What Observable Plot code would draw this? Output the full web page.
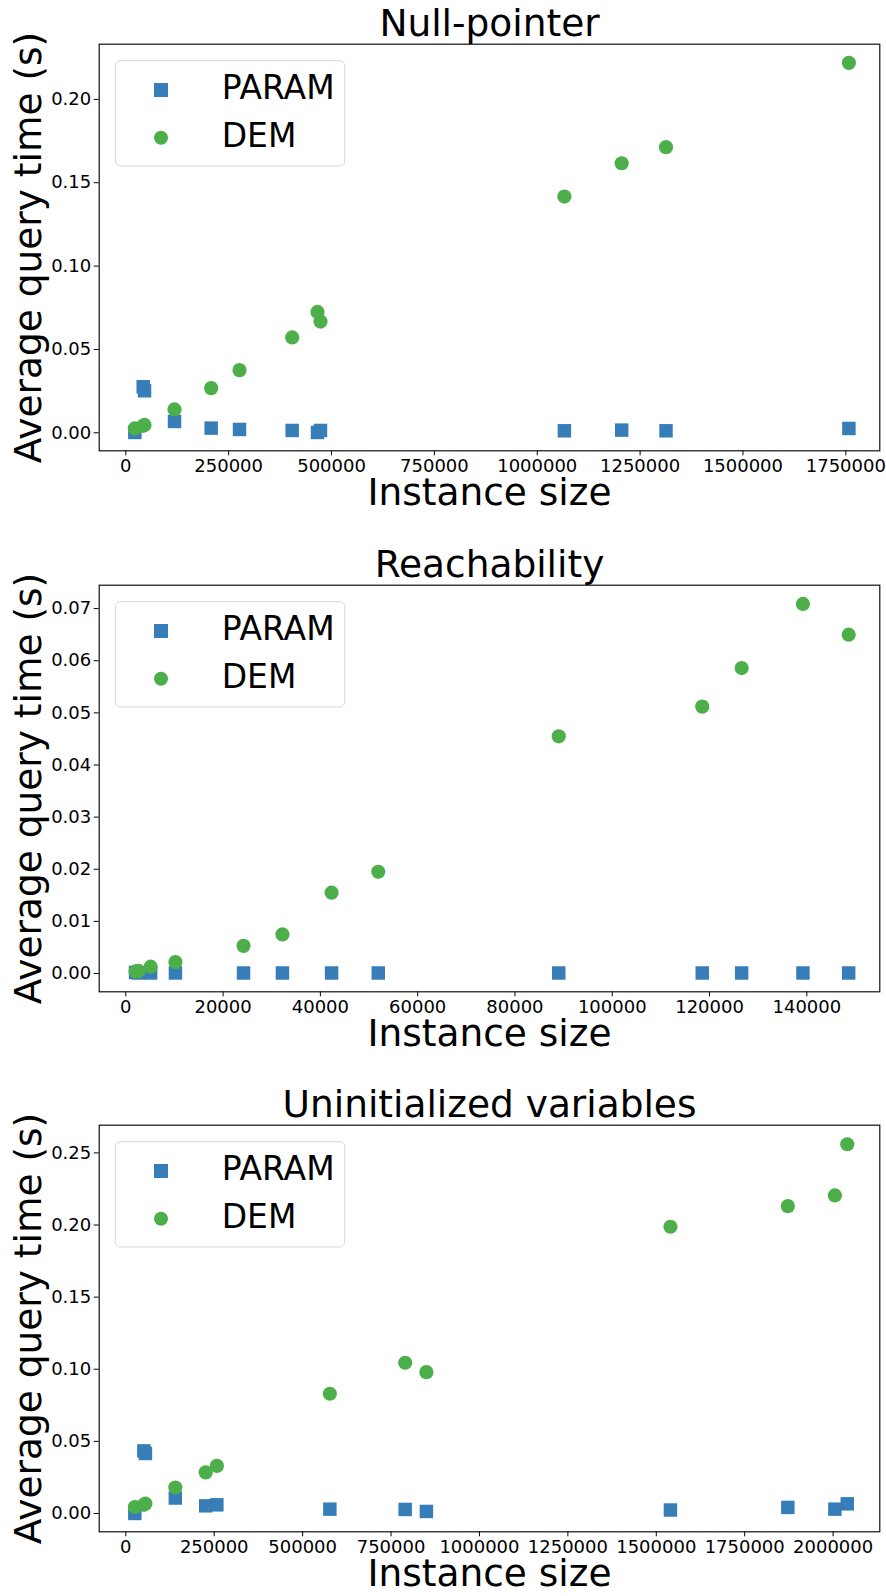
<!DOCTYPE html>
<html>
<head>
<meta charset="utf-8">
<script src="https://cdn.jsdelivr.net/npm/d3@7"></script>
<script src="https://cdn.jsdelivr.net/npm/@observablehq/plot@0.6"></script>
<style>
  html, body { margin: 0; padding: 0; background: #fff; }
  #root { position: relative; width: 886px; height: 1596px; font-family: "DejaVu Sans", sans-serif; overflow: hidden; }
  .panel { position: absolute; left: 0; }
  .panel svg { overflow: visible; }
</style>
</head>
<body>
<div id="root"></div>
<script>
// ---------- Data ----------
const seriesNames = ["PARAM", "DEM"];
const titles = ["Null-pointer", "Reachability", "Uninitialized variables"];
const xLabel = "Instance size";
const yLabel = "Average query time (s)";

// Null-pointer
const npSize  = [21900, 42300, 45500, 118400, 207500, 276400, 404400, 465900, 473200, 1066000, 1205300, 1313000, 1757500];
const npParam = [0.0002, 0.0276, 0.0252, 0.0068, 0.0028, 0.0020, 0.0014, 0.0002, 0.0014, 0.0012, 0.0016, 0.0012, 0.0026];
const npDem   = [0.0026, 0.0042, 0.0047, 0.0140, 0.0268, 0.0376, 0.0572, 0.0725, 0.0667, 0.1417, 0.1617, 0.1713, 0.2219];

// Reachability
const reSize  = [2000, 2600, 5100, 10200, 24200, 32200, 42300, 51900, 89000, 118500, 126600, 139200, 148600];
const reParam = [0.0002, 0.0001, 0.0001, 0.0001, 0.0001, 0.0001, 0.0001, 0.0001, 0.0001, 0.0001, 0.0001, 0.0001, 0.0001];
const reDem   = [0.0004, 0.0005, 0.0013, 0.0022, 0.0053, 0.0075, 0.0155, 0.0195, 0.0455, 0.0512, 0.0586, 0.0709, 0.0650];

// Uninitialized variables
const uvSize  = [25500, 51000, 55500, 140000, 226000, 257500, 577000, 790000, 850000, 1540000, 1872000, 2005000, 2040000];
const uvParam = [0.0000, 0.0434, 0.0416, 0.0107, 0.0053, 0.0060, 0.0030, 0.0028, 0.0014, 0.0024, 0.0042, 0.0030, 0.0067];
const uvDem   = [0.0045, 0.0060, 0.0068, 0.0180, 0.0285, 0.0330, 0.0830, 0.1045, 0.0980, 0.1988, 0.2131, 0.2205, 0.2560];

// Axis ticks
const npXTicks = [0, 250000, 500000, 750000, 1000000, 1250000, 1500000, 1750000];
const npYTicks = [0, 0.05, 0.10, 0.15, 0.20];
const reXTicks = [0, 20000, 40000, 60000, 80000, 100000, 120000, 140000];
const reYTicks = [0, 0.01, 0.02, 0.03, 0.04, 0.05, 0.06, 0.07];
const uvXTicks = [0, 250000, 500000, 750000, 1000000, 1250000, 1500000, 1750000, 2000000];
const uvYTicks = [0, 0.05, 0.10, 0.15, 0.20, 0.25];

const panels = [
  {title: titles[0], size: npSize, param: npParam, dem: npDem, xd: [-64650, 1832600], yd: [-0.0108, 0.2331], xt: npXTicks, yt: npYTicks, yf: ".2f", top: 0},
  {title: titles[1], size: reSize, param: reParam, dem: reDem, xd: [-5470, 155000], yd: [-0.00351, 0.07449], xt: reXTicks, yt: reYTicks, yf: ".2f", top: 540.6},
  {title: titles[2], size: uvSize, param: uvParam, dem: uvDem, xd: [-75200, 2132000], yd: [-0.0127, 0.2692], xt: uvXTicks, yt: uvYTicks, yf: ".2f", top: 1080.6}
];

const BLUE = "#377eb8", GREEN = "#4daf4a";
const W = 886, ML = 98.7, MR = 6.7, MT = 43.7, FH = 406.6, MB = 65;
const H = MT + FH + MB;
const root = document.getElementById("root");

for (const p of panels) {
  const paramData = p.size.map((s, i) => ({x: s, y: p.param[i]}));
  const demData = p.size.map((s, i) => ({x: s, y: p.dem[i]}));
  const svg = Plot.plot({
    width: W, height: H,
    marginLeft: ML, marginRight: MR, marginTop: MT, marginBottom: MB,
    style: {fontFamily: "DejaVu Sans", fontSize: "18px", color: "#000", background: "transparent", overflow: "visible"},
    x: {domain: p.xd},
    y: {domain: p.yd},
    marks: [
      Plot.axisX({ticks: p.xt, tickFormat: d3.format("d"), tickSize: 5, tickPadding: 3, label: null, fontSize: 18, stroke: "#000"}),
      Plot.axisY({ticks: p.yt, tickFormat: d3.format(p.yf), tickSize: 5, tickPadding: 3, label: null, fontSize: 18, stroke: "#000"}),
      Plot.dot(paramData, {x: "x", y: "y", symbol: "square", r: 7.6, fill: BLUE, stroke: "none"}),
      Plot.dot(demData, {x: "x", y: "y", symbol: "circle", r: 7.1, fill: GREEN, stroke: "none"}),
      Plot.frame({stroke: "#111", strokeWidth: 1.2}),
      Plot.text([p.title], {text: d => d, frameAnchor: "top", dy: -8, lineAnchor: "bottom", textAnchor: "middle", fontSize: 37.5, fill: "#000"}),
      Plot.text([xLabel], {text: d => d, frameAnchor: "bottom", dy: 54, lineAnchor: "bottom", textAnchor: "middle", fontSize: 37.5, fill: "#000"}),
      Plot.text([yLabel], {text: d => d, frameAnchor: "left", dx: -58.7, rotate: -90, lineAnchor: "bottom", textAnchor: "middle", fontSize: 37.5, fill: "#000"})
    ]
  });
  // Legend (inside axes, upper left)
  const g = d3.select(svg).append("g").attr("font-family", "DejaVu Sans").attr("text-anchor", "start");
  g.append("rect").attr("x", 115.3).attr("y", 60.7).attr("width", 229.4).attr("height", 105.3)
    .attr("rx", 5).attr("ry", 5).attr("fill", "rgba(255,255,255,0.8)").attr("stroke", "#d6d6d6").attr("stroke-width", 1);
  g.append("rect").attr("x", 161 - 7).attr("y", 90 - 7).attr("width", 14).attr("height", 14).attr("fill", BLUE);
  g.append("circle").attr("cx", 161).attr("cy", 137.7).attr("r", 7).attr("fill", GREEN);
  g.append("text").attr("x", 221.7).attr("y", 99.5).attr("font-size", 33).attr("text-anchor", "start").attr("fill", "#000").text(seriesNames[0]);
  g.append("text").attr("x", 221.7).attr("y", 147.5).attr("font-size", 33).attr("text-anchor", "start").attr("fill", "#000").text(seriesNames[1]);

  const div = document.createElement("div");
  div.className = "panel";
  div.style.top = p.top + "px";
  div.appendChild(svg);
  root.appendChild(div);
}
</script>
</body>
</html>
